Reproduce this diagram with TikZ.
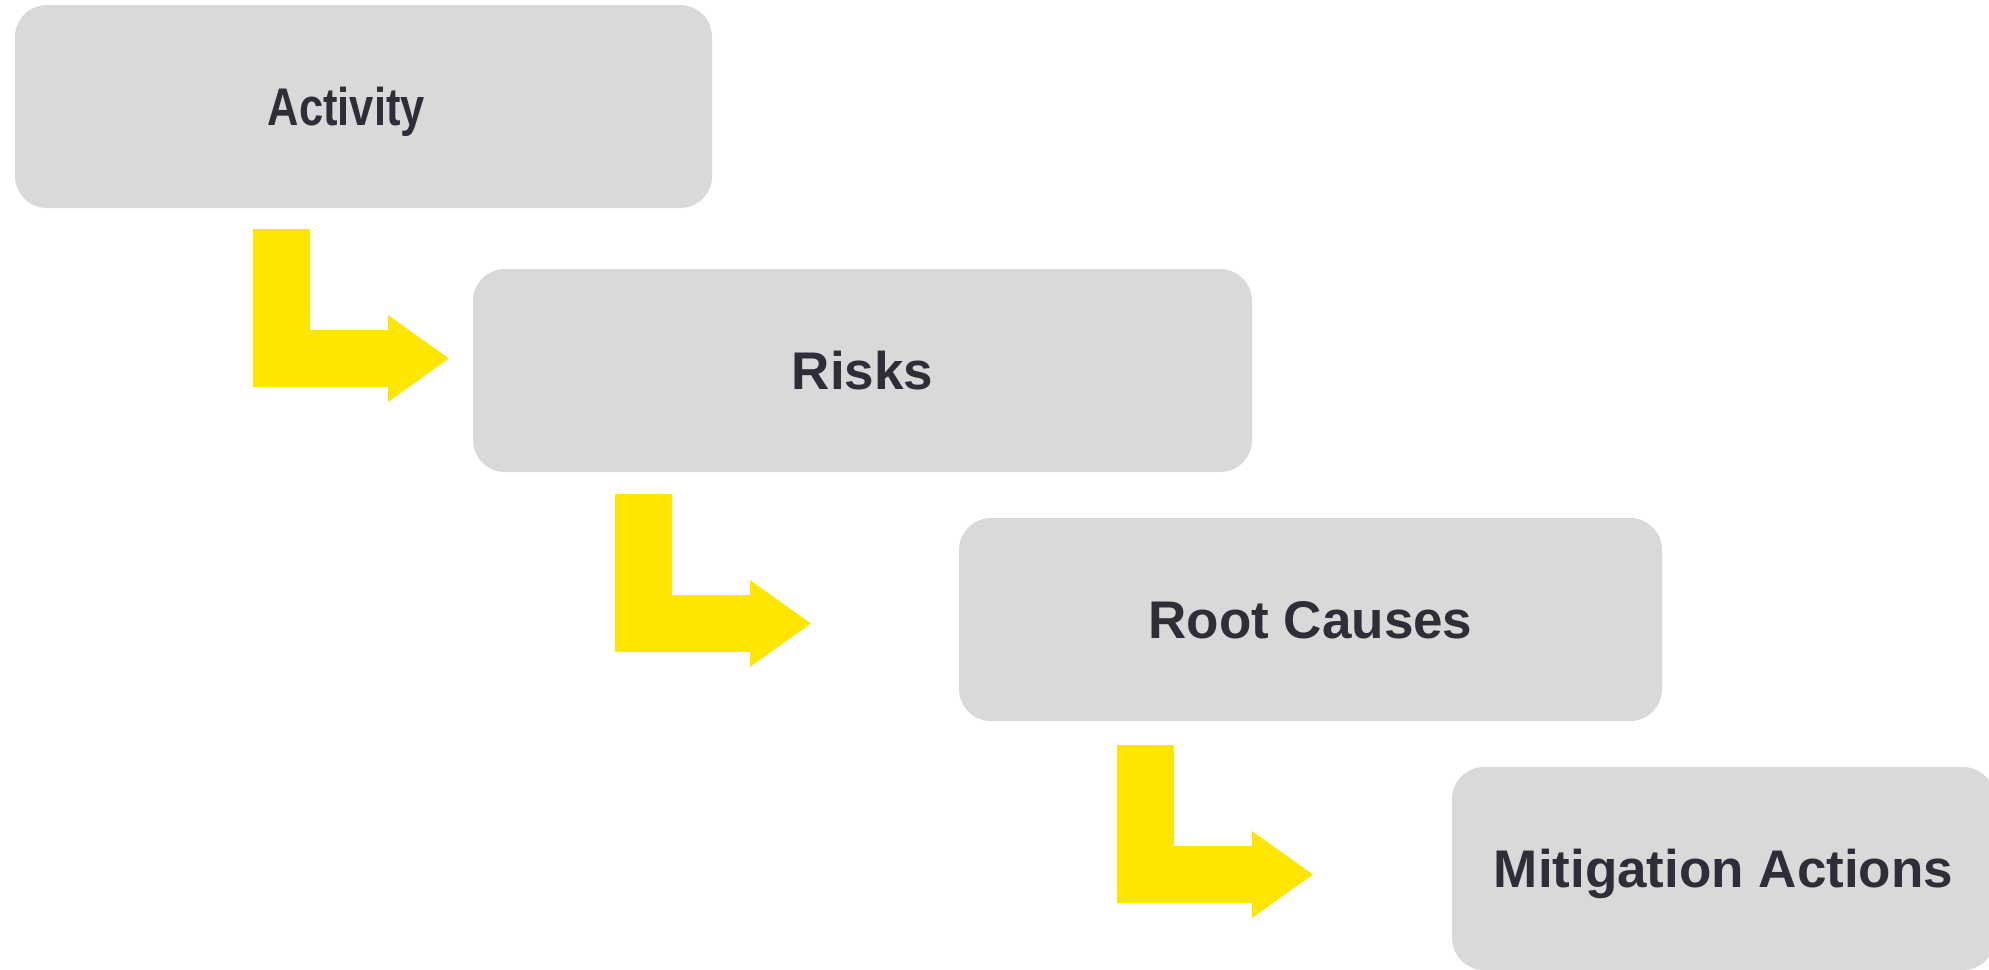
\documentclass[tikz,border=0pt]{standalone}
\usepackage{fontspec}
\setmainfont{Liberation Sans}
\usepackage{xcolor}
\definecolor{boxgray}{HTML}{D9D9D9}
\definecolor{textdark}{HTML}{2E2E38}
\definecolor{flowyellow}{HTML}{FFE600}

\begin{document}
\begin{tikzpicture}[x=0.5pt,y=-0.5pt,
    stage/.style={fill=boxgray, rounded corners=16pt, inner sep=0pt,
        minimum height=101.5pt, text=textdark, text depth=0pt,
        font=\bfseries\fontsize{26.5}{30}\selectfont}]
        \useasboundingbox (0,0) rectangle (1989,969);
        % stages
        \node[stage, minimum width=348.5pt] (activity) at (363.5,106.5)
            {\rlap{\scalebox{0.82}[1]{Activity}}\phantom{Activity}};
        \node[stage, minimum width=389.5pt] (risks) at (862.5,370.5) {Risks};
        \node[stage, minimum width=351.5pt] (causes) at (1310.5,619.5) {Root Causes};
        \node[stage, minimum width=271.5pt] (actions) at (1723.5,868.5) {Mitigation Actions};
        % bent arrows between the stages
        \foreach \ax/\ay in {253/229, 615/494, 1117/745}
            \fill[flowyellow, shift={(\ax,\ay)}] (0,0) -- (57,0) -- (57,101) -- (135,101)
                -- (135,86) -- (196,129.5) -- (135,173) -- (135,158) -- (0,158) -- cycle;
    \end{tikzpicture}
\end{document}
